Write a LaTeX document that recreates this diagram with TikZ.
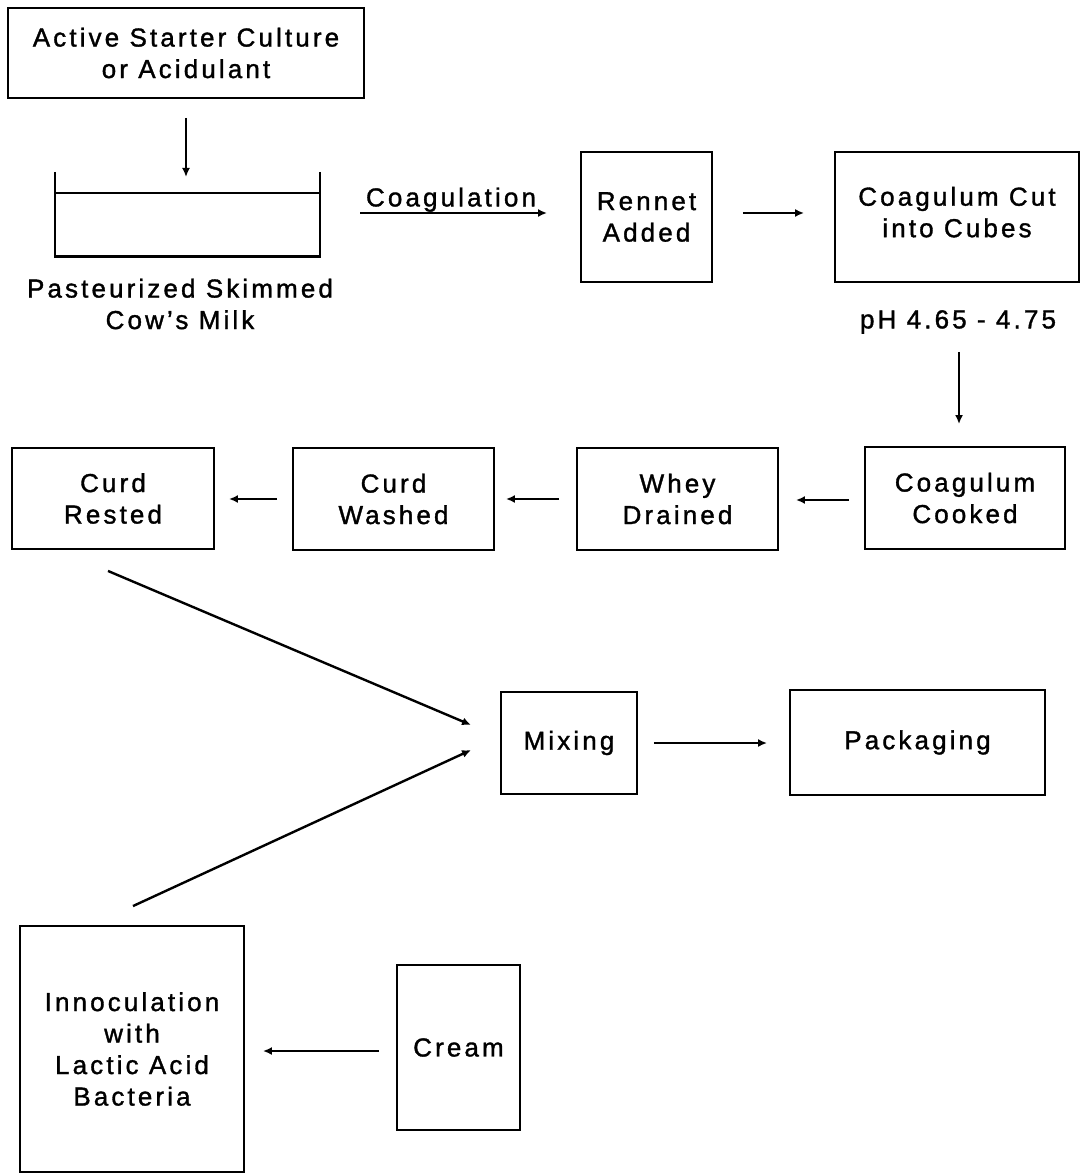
\documentclass[tikz,border=0pt]{standalone}
\usepackage{fontspec}
\setmainfont{Liberation Sans}[LetterSpace=12,FakeBold=1.3]
\usetikzlibrary{arrows.meta}
\tikzset{
  box/.style={draw, line width=1.9pt, inner sep=0pt, align=center, font=\fontsize{26pt}{31.5pt}\selectfont},
  lbl/.style={inner sep=0pt, align=center, font=\fontsize{26pt}{31.5pt}\selectfont},
  arr/.style={line width=2.4pt, -{Latex[length=9pt,width=8pt]}},
  vatline/.style={line width=2pt}
}
\begin{document}
\begin{tikzpicture}[x=1pt,y=-1pt]
\useasboundingbox (0,0) rectangle (1081,1174);
% boxes
\node[box, minimum width=356pt, minimum height=90pt] (start) at (186,53) {Active Starter Culture\\or Acidulant};
\node[box, minimum width=131pt, minimum height=130pt] (rennet) at (646.5,217) {Rennet\\Added};
\node[box, minimum width=244pt, minimum height=130pt, text depth=10pt] (cut) at (957,217) {Coagulum Cut\\into Cubes};
\node[lbl] (ph) at (958,322) {pH 4.65 - 4.75};
\node[box, minimum width=200pt, minimum height=102pt] (cooked) at (965,498) {Coagulum\\Cooked};
\node[box, minimum width=201pt, minimum height=102pt] (whey) at (677.5,499) {Whey\\Drained};
\node[box, minimum width=201pt, minimum height=102pt] (washed) at (393.5,499) {Curd\\Washed};
\node[box, minimum width=202pt, minimum height=101pt] (rested) at (113,498.5) {Curd\\Rested};
\node[box, minimum width=136pt, minimum height=102pt] (mixing) at (569,743) {Mixing};
\node[box, minimum width=255pt, minimum height=105pt] (pack) at (917.5,742.5) {Packaging};
\node[box, minimum width=224pt, minimum height=246pt] (innoc) at (132,1049) {Innoculation\\with\\Lactic Acid\\Bacteria};
\node[box, minimum width=123pt, minimum height=165pt] (cream) at (458.5,1047.5) {Cream};
% vat
\draw[vatline] (55,172) -- (55,257);
\draw[vatline] (320,172) -- (320,257);
\draw[vatline] (55,193) -- (320,193);
\draw[line width=3pt] (54,256) -- (321,256);
\coordinate (vatin) at (186,177);
\coordinate (coagstart) at (360,213);
\node[lbl] (milk) at (180,304) {Pasteurized Skimmed\\Cow's Milk};
% connectors
\draw[arr, shorten <=19pt] (start.south) -- (vatin);
\draw[arr, shorten >=33pt] (coagstart) -- (coagstart -| rennet.west) node[midway, above=0pt, xshift=-19pt, lbl] (coag) {Coagulation};
\draw[arr, shorten <=30pt, shorten >=30pt] ([yshift=4pt]rennet.east) -- ([yshift=4pt]cut.west);
\draw[arr, shorten <=18pt, shorten >=22pt] ([xshift=1pt]ph.south) -- ([xshift=-6pt]cooked.north);
\draw[arr, shorten <=15pt, shorten >=17pt] ([yshift=-2pt]cooked.west) -- ([yshift=-1pt]whey.east);
\draw[arr, shorten <=17pt, shorten >=11pt] (whey.west) -- (washed.east);
\draw[arr, shorten <=15pt, shorten >=14pt] (washed.west) -- ([yshift=-0.5pt]rested.east);
\draw[arr] ([xshift=-5pt,yshift=-21pt]rested.south) -- ([xshift=-29pt,yshift=18pt]mixing.west);
\draw[arr] ([xshift=1pt,yshift=19pt]innoc.north) -- ([xshift=-29pt,yshift=-7pt]mixing.west);
\draw[arr, shorten <=16pt, shorten >=22pt] (mixing.east) -- (mixing.east -| pack.west);
\draw[arr, shorten <=17pt, shorten >=18pt] ([yshift=-3.5pt]cream.west) -- ([yshift=-3.5pt]cream.west -| innoc.east);
\end{tikzpicture}
\end{document}
